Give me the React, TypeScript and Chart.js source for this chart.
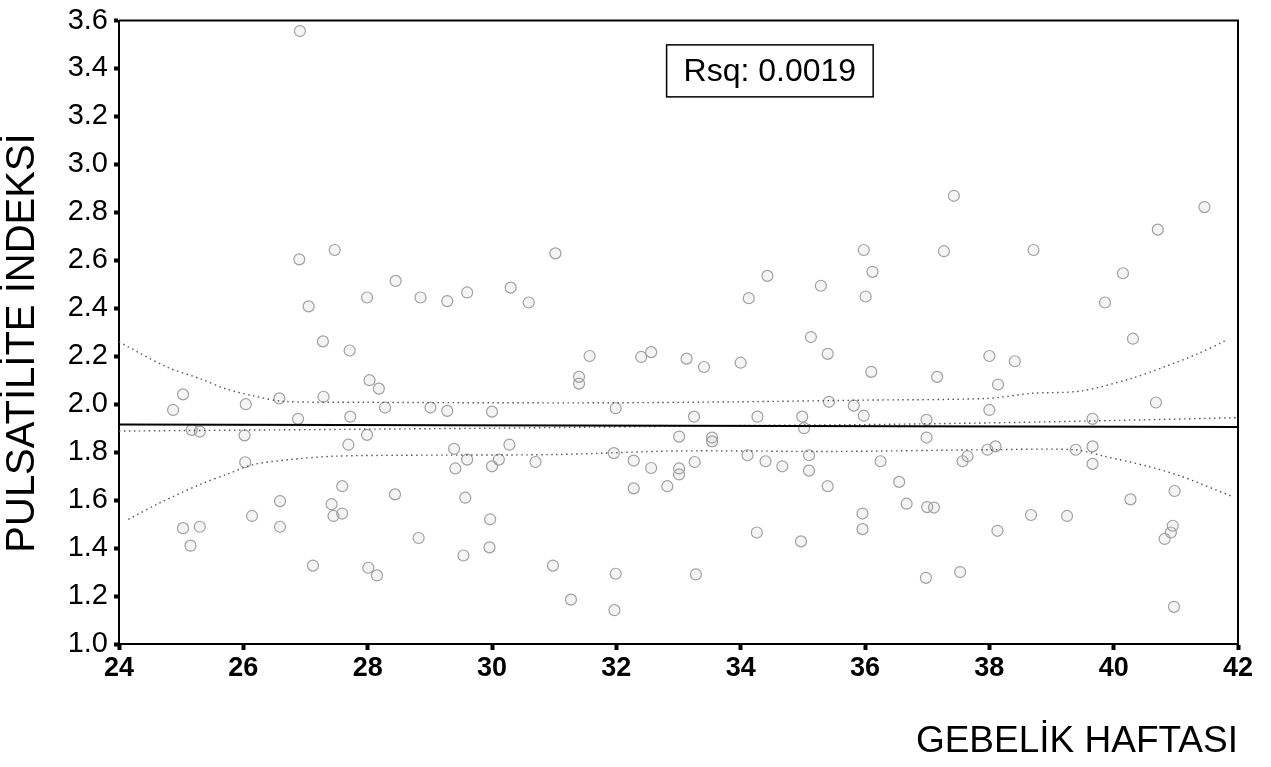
import React, { useEffect, useRef } from "react";
import { Chart, registerables } from "chart.js";
Chart.register(...registerables);

const FONT = '"Liberation Sans", Arial, Helvetica, sans-serif';

// Scatter data: gestational week vs pulsatility index
const weekX = [
  26.91, 26.9, 27.47, 27.05, 28.45, 27.99, 28.85, 29.28, 29.6, 30.3, 30.59, 31.02, 34.43, 34.13, 35.29, 35.13,
  37.43, 35.98, 36.12, 36.01, 37.27, 38.71, 41.46, 40.71, 40.15, 39.86, 40.31,
  24.87, 25.03, 25.17, 25.3, 25.03, 25.3, 25.15, 26.04, 26.02, 26.03, 26.14, 26.59, 26.59, 26.58, 26.88,
  27.12, 27.28, 27.29, 27.42, 27.45, 27.59, 27.59, 27.71, 27.72, 27.69, 27.99, 28.03, 28.18, 28.28, 28.01,
  28.15, 28.44, 28.82,
  29.01, 29.28, 30.0, 29.39, 29.6, 29.41, 29.57, 29.97, 29.54, 29.96, 30.28, 30.11, 30.0, 30.7, 30.98, 31.27,
  31.4, 31.4, 31.57, 31.99, 31.96, 31.99, 31.97, 32.28, 32.28, 32.4, 32.56, 32.56, 32.82, 33.01, 33.01, 33.01,
  33.13, 33.25, 33.26, 33.28, 33.41, 33.54, 33.54, 34.0, 34.11, 34.26, 34.27, 34.4, 34.67, 34.97, 34.99, 35.02,
  35.1, 35.1, 35.4, 35.4, 35.42,
  36.1, 35.82, 35.98, 36.25, 36.55, 35.96, 35.96, 36.67, 36.99, 36.99, 37.0, 37.11, 37.16, 36.98, 37.53, 37.57,
  37.65, 38.0, 38.0, 37.97, 38.1, 38.14, 38.13, 38.41, 38.67, 39.25, 39.39, 39.66, 39.66, 39.66, 40.27, 40.68,
  40.98, 40.95, 40.92, 40.82, 40.97,
];
const piY = [
  3.556, 2.604, 2.643, 2.408, 2.514, 2.445, 2.445, 2.43, 2.466, 2.486, 2.424, 2.629, 2.535, 2.442, 2.494, 2.28,
  2.869, 2.643, 2.552, 2.449, 2.638, 2.643, 2.822, 2.728, 2.546, 2.424, 2.273,
  1.976, 2.041, 1.893, 1.886, 1.483, 1.489, 1.41, 2.0, 1.87, 1.758, 1.534, 1.596, 1.489, 2.024, 1.939,
  1.327, 2.262, 2.031, 1.583, 1.534, 1.544, 1.658, 2.224, 1.948, 1.831, 1.872, 2.1, 2.065, 1.986, 1.318,
  1.286, 1.624, 1.442,
  1.986, 1.972, 1.969, 1.814, 1.769, 1.732, 1.61, 1.52, 1.369, 1.403, 1.831, 1.769, 1.741, 1.759, 1.327, 1.185,
  2.114, 2.086, 2.201, 1.983, 1.796, 1.293, 1.141, 1.765, 1.649, 2.197, 2.217, 1.734, 1.658, 1.732, 1.707, 1.865,
  2.19, 1.948, 1.759, 1.29, 2.155, 1.861, 1.845, 2.173, 1.787, 1.465, 1.948, 1.762, 1.741, 1.428, 1.948, 1.9,
  1.787, 1.723, 2.21, 1.658, 2.01,
  2.135, 1.994, 1.952, 1.762, 1.676, 1.544, 1.479, 1.585, 1.935, 1.861, 1.571, 1.569, 2.114, 1.276, 1.3, 1.762,
  1.783, 2.201, 1.976, 1.81, 1.824, 2.082, 1.472, 2.179, 1.538, 1.534, 1.81, 1.939, 1.824, 1.751, 1.603, 2.007,
  1.638, 1.493, 1.465, 1.438, 1.155,
];

// Fit line (solid)
const fitX = [24, 42];
const fitY = [1.915, 1.905];
// Second (dotted) fit line
const altFitX = [24, 30, 34, 36, 38, 40, 42];
const altFitY = [1.888, 1.9, 1.911, 1.915, 1.922, 1.932, 1.944];
// Upper band
const upperX = [24, 24.77, 25.3, 25.73, 26.16, 26.64, 28, 30, 32, 34, 36, 37.97, 38.67, 39.47, 40.28, 40.81, 41.35, 41.8];
const upperY = [2.26, 2.155, 2.107, 2.063, 2.035, 2.012, 2.008, 2.006, 2.006, 2.01, 2.017, 2.024, 2.045, 2.055, 2.107, 2.155, 2.21, 2.265];
// Lower band
const lowerX = [24.15, 24.66, 25.3, 25.73, 26.16, 26.75, 27.45, 28.52, 31, 33, 35.5, 38, 39.37, 39.85, 40.55, 41.08, 41.89];
const lowerY = [1.52, 1.589, 1.665, 1.707, 1.748, 1.769, 1.783, 1.787, 1.79, 1.805, 1.803, 1.81, 1.81, 1.783, 1.741, 1.7, 1.617];

const rsqText = "Rsq: 0.0019";
const yTitle = "PULSATİLİTE İNDEKSİ";
const xTitle = "GEBELİK HAFTASI";

const zip = (xs: number[], ys: number[]) => xs.map((x, i) => ({ x, y: ys[i] }));

export default function App() {
  const ref = useRef<HTMLCanvasElement | null>(null);

  useEffect(() => {
    document.body.style.margin = "0";
    const canvas = ref.current;
    if (!canvas) return;

    const framePlugin = {
      id: "frameAndLabels",
      afterDraw(chart: any) {
        const { ctx, chartArea, scales } = chart;
        ctx.save();
        // frame top/right
        ctx.strokeStyle = "#000";
        ctx.lineWidth = 2;
        ctx.beginPath();
        ctx.moveTo(chartArea.left, chartArea.top);
        ctx.lineTo(chartArea.right, chartArea.top);
        ctx.lineTo(chartArea.right, chartArea.bottom);
        ctx.stroke();

        // Rsq box
        const cx = scales.x.getPixelForValue(34.47);
        const cy = scales.y.getPixelForValue(3.39);
        ctx.font = `32px ${FONT}`;
        const w = ctx.measureText(rsqText).width + 34;
        const h = 52;
        ctx.fillStyle = "#fff";
        ctx.fillRect(cx - w / 2, cy - h / 2, w, h);
        ctx.lineWidth = 1.5;
        ctx.strokeRect(cx - w / 2, cy - h / 2, w, h);
        ctx.fillStyle = "#000";
        ctx.textAlign = "center";
        ctx.textBaseline = "middle";
        ctx.fillText(rsqText, cx, cy + 1);

        // Y axis title
        ctx.translate(23, 343);
        ctx.rotate(-Math.PI / 2);
        ctx.font = `40px ${FONT}`;
        ctx.fillText(yTitle, 0, 0);
        ctx.restore();
      },
    };

    const bandStyle = {
      type: "line" as const,
      showLine: true,
      pointRadius: 0,
      borderColor: "#555",
      borderWidth: 1.4,
      borderDash: [1.5, 3.5],
      fill: false,
      tension: 0.3,
    };

    const chart = new Chart(canvas, {
      type: "scatter",
      data: {
        datasets: [
          {
            type: "line",
            data: zip(fitX, fitY),
            showLine: true,
            pointRadius: 0,
            borderColor: "#000",
            borderWidth: 2,
            fill: false,
          } as any,
          { ...bandStyle, data: zip(altFitX, altFitY), tension: 0.2 } as any,
          { ...bandStyle, data: zip(upperX, upperY) } as any,
          { ...bandStyle, data: zip(lowerX, lowerY) } as any,
          {
            data: zip(weekX, piY),
            pointStyle: "circle",
            pointRadius: 5.5,
            pointBorderWidth: 1.2,
            borderColor: "#a0a0a0",
            backgroundColor: "rgba(150,150,150,0.1)",
          } as any,
        ],
      },
      options: {
        animation: false,
        responsive: false,
        maintainAspectRatio: false,
        layout: { padding: { top: 16, right: 33, left: 0, bottom: 0 } },
        plugins: { legend: { display: false }, tooltip: { enabled: false } },
        scales: {
          x: {
            type: "linear",
            min: 24,
            max: 42,
            afterFit: (s: any) => {
              s.height = 123;
            },
            border: { display: true, color: "#000", width: 2 },
            grid: { display: true, drawOnChartArea: false, drawTicks: true, tickLength: 6, tickWidth: 4, tickColor: "#000" },
            ticks: {
              stepSize: 2,
              color: "#000",
              padding: 5,
              font: { family: FONT, size: 27, weight: "bold", lineHeight: 1 },
              callback: (v: any) => String(v),
            },
            title: {
              display: true,
              text: xTitle,
              align: "end",
              color: "#000",
              font: { family: FONT, size: 37, lineHeight: 1.2 },
              padding: { top: 0, bottom: 3 },
            },
          },
          y: {
            type: "linear",
            min: 1.0,
            max: 3.6,
            afterFit: (s: any) => {
              s.width = 119;
            },
            border: { display: true, color: "#000", width: 2 },
            grid: { display: true, drawOnChartArea: false, drawTicks: true, tickLength: 5, tickWidth: 4, tickColor: "#000" },
            ticks: {
              stepSize: 0.2,
              color: "#000",
              padding: 6,
              font: { family: FONT, size: 29, lineHeight: 1 },
              callback: (v: any) => Number(v).toFixed(1),
            },
          },
        },
      } as any,
      plugins: [framePlugin],
    });

    return () => chart.destroy();
  }, []);

  return (
    <div style={{ width: 1271, height: 767, background: "#fff" }}>
      <canvas ref={ref} width={1271} height={767} style={{ display: "block" }} />
    </div>
  );
}
